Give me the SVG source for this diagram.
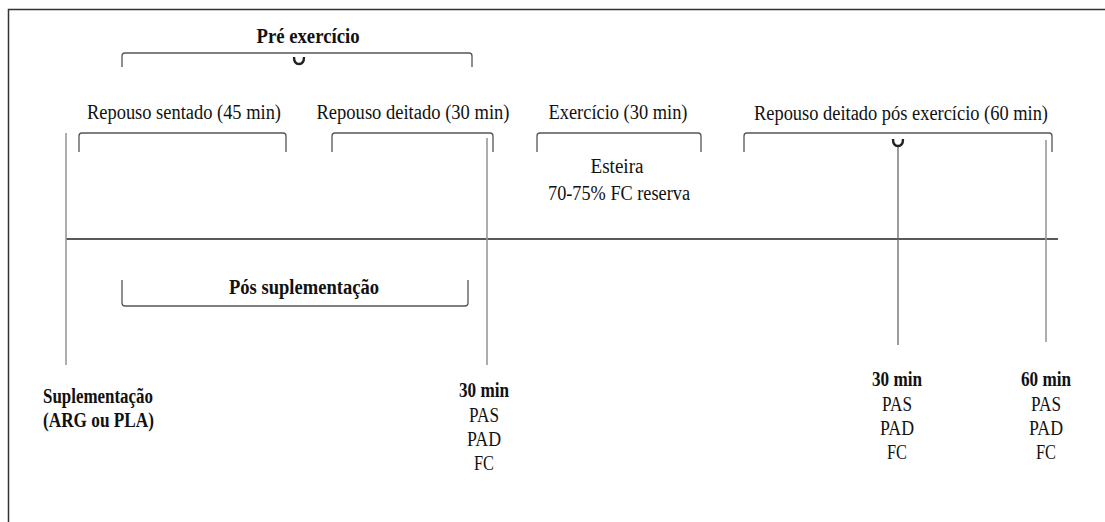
<svg xmlns="http://www.w3.org/2000/svg" width="1105" height="522" viewBox="0 0 1105 522">
<style>
text{font-size:20px;fill:#111}
.b{font-weight:bold}
.m{text-anchor:middle}
.br{fill:none;stroke:#555;stroke-width:1.3}
.vl{stroke:#999;stroke-width:1.6}
.vd{stroke:#666;stroke-width:1.3}
.n{fill:none;stroke:#222;stroke-width:2.4}
</style>
<rect x="0" y="0" width="1105" height="522" fill="#fff"/>
<path d="M8.5,522 V9.5 H1105" fill="none" stroke="#333" stroke-width="1.5"/>
<g id="connectors">
<line x1="66" y1="239" x2="1058" y2="239" stroke="#222" stroke-width="1.3"/>
<line class="vl" x1="66" y1="133" x2="66" y2="365"/>
<line class="vl" x1="487" y1="138" x2="487" y2="365"/>
<line class="vd" x1="898" y1="146" x2="898" y2="345"/>
<line class="vl" x1="1046" y1="140" x2="1046" y2="342"/>
<path class="br" d="M122,67 V56 Q122,53 125,53 H469 Q472,53 472,56 V67"/>
<path class="n" d="M294,57 Q294,64 299,64 Q304,64 304,57"/>
<path class="br" d="M79,152 V136 Q79,133 82,133 H283 Q286,133 286,136 V152"/>
<path class="br" d="M332,152 V136 Q332,133 335,133 H490 Q493,133 493,136 V152"/>
<path class="br" d="M537,152 V136 Q537,133 540,133 H698 Q701,133 701,136 V152"/>
<path class="br" d="M744,152 V136 Q744,133 747,133 H1049 Q1052,133 1052,136 V152"/>
<path class="n" d="M893,139 Q893,146 898,146 Q903,146 903,139"/>
<path class="br" d="M122,280 V303 Q122,306 125,306 H465 Q468,306 468,303 V280"/>
</g>
<g font-family="Liberation Serif, DejaVu Serif, serif">
<g id="pre-exercicio"><text class="b m" x="308" y="43" textLength="103" lengthAdjust="spacingAndGlyphs">Pré exercício</text></g>
<g id="repouso-sentado"><text class="m" x="184" y="119" textLength="194" lengthAdjust="spacingAndGlyphs">Repouso sentado (45 min)</text></g>
<g id="repouso-deitado"><text class="m" x="413" y="119" textLength="193" lengthAdjust="spacingAndGlyphs">Repouso deitado (30 min)</text></g>
<g id="exercicio">
<text class="m" x="618" y="119" textLength="139" lengthAdjust="spacingAndGlyphs">Exercício (30 min)</text>
<text class="m" x="617" y="173" textLength="53" lengthAdjust="spacingAndGlyphs">Esteira</text>
<text class="m" x="619" y="200" textLength="142" lengthAdjust="spacingAndGlyphs">70-75% FC reserva</text>
</g>
<g id="repouso-pos"><text class="m" x="901" y="120" textLength="294" lengthAdjust="spacingAndGlyphs">Repouso deitado pós exercício (60 min)</text></g>
<g id="pos-suplementacao"><text class="b m" x="304" y="294" textLength="150" lengthAdjust="spacingAndGlyphs">Pós suplementação</text></g>
<g id="suplementacao">
<text class="b" x="43" y="403" textLength="110" lengthAdjust="spacingAndGlyphs">Suplementação</text>
<text class="b" x="43" y="427" textLength="111" lengthAdjust="spacingAndGlyphs">(ARG ou PLA)</text>
</g>
<g id="t30a">
<text class="b m" x="484" y="397" textLength="50" lengthAdjust="spacingAndGlyphs">30 min</text>
<text class="m" x="484" y="422" textLength="30" lengthAdjust="spacingAndGlyphs">PAS</text>
<text class="m" x="484" y="446" textLength="34" lengthAdjust="spacingAndGlyphs">PAD</text>
<text class="m" x="484" y="470" textLength="20" lengthAdjust="spacingAndGlyphs">FC</text>
</g>
<g id="t30b">
<text class="b m" x="897" y="386" textLength="50" lengthAdjust="spacingAndGlyphs">30 min</text>
<text class="m" x="897" y="411" textLength="30" lengthAdjust="spacingAndGlyphs">PAS</text>
<text class="m" x="897" y="435" textLength="34" lengthAdjust="spacingAndGlyphs">PAD</text>
<text class="m" x="897" y="459" textLength="20" lengthAdjust="spacingAndGlyphs">FC</text>
</g>
<g id="t60">
<text class="b m" x="1046" y="386" textLength="50" lengthAdjust="spacingAndGlyphs">60 min</text>
<text class="m" x="1046" y="411" textLength="30" lengthAdjust="spacingAndGlyphs">PAS</text>
<text class="m" x="1046" y="435" textLength="34" lengthAdjust="spacingAndGlyphs">PAD</text>
<text class="m" x="1046" y="459" textLength="20" lengthAdjust="spacingAndGlyphs">FC</text>
</g>
</g>
</svg>
